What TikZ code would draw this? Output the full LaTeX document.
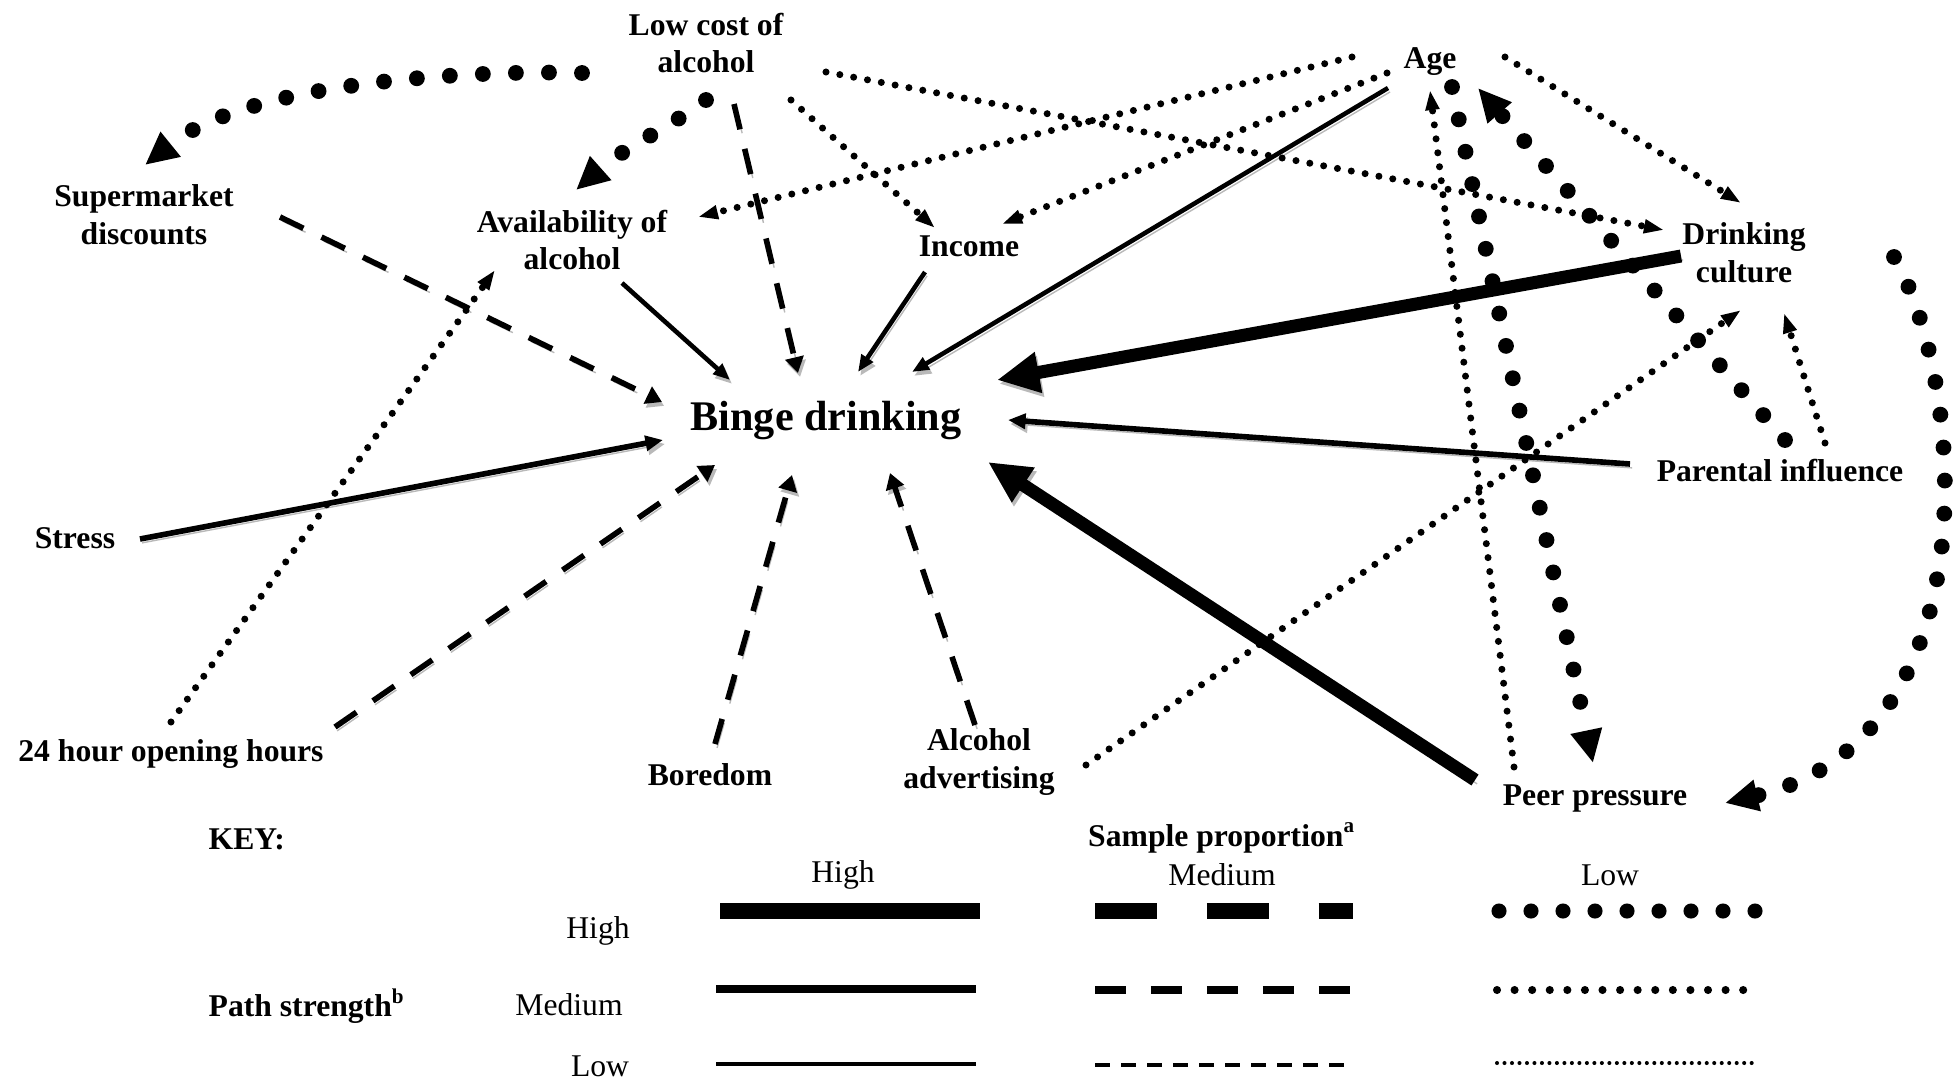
\documentclass[tikz,border=0pt]{standalone}
\usepackage{fontspec}
\setmainfont{Liberation Serif}
\usepackage{tikz}
\usetikzlibrary{arrows.meta,calc}

\begin{document}
\begin{tikzpicture}[x=0.01cm,y=-0.01cm,
  factor/.style={font=\fontsize{9}{10.7}\selectfont\bfseries,align=center,inner sep=0pt},
  keytext/.style={font=\fontsize{9}{10.7}\selectfont,inner sep=0pt},
  shade/.style={preaction={draw=gray!55,#1,transform canvas={shift={(0.6pt,-1.1pt)}}}},
  shade/.default={},
  thickline/.style={shade,line width=3.7pt,-{Triangle[length=12pt,width=11pt]}},
  midline/.style={shade,line width=1.6pt,-{Triangle[length=5pt,width=4.2pt]}},
  thinline/.style={shade,line width=1.3pt,-{Triangle[length=4.8pt,width=3.8pt]}},
  dashline/.style={shade={dash pattern=on 7.4pt off 5.7pt},line width=1.6pt,dash pattern=on 7.4pt off 5.7pt,-{Triangle[length=4.5pt,width=5.2pt]}},
  smalldots/.style={line width=2pt,line cap=round,dash pattern=on 0pt off 4pt,-{Triangle[length=5.7pt,width=3.7pt]}},
  bigdots/.style={line width=4.5pt,line cap=round,dash pattern=on 0pt off 9.4pt,-{Triangle[length=9.4pt,width=8.5pt]}}]
\useasboundingbox (0,0) rectangle (1960,1081);
% factors
\node[factor] (lowcost) at (706,43) {Low cost of\\alcohol};
\node[factor] (age) at (1430,62) {Age};
\node[factor] (supermkt) at (144,215) {Supermarket\\discounts};
\node[factor] (avail) at (572,240) {Availability of\\alcohol};
\node[factor] (income) at (969,246) {Income};
\node[factor] (culture) at (1744,253) {Drinking\\culture};
\node[factor,font=\fontsize{12}{14}\selectfont\bfseries] (binge) at (826,421) {Binge drinking};
\node[factor] (stress) at (75,538) {Stress};
\node[factor] (parent) at (1780,471) {Parental influence};
\node[factor] (open24) at (171,754) {24 hour opening hours};
\node[factor] (boredom) at (710,775) {Boredom};
\node[factor] (advert) at (979,762) {Alcohol\\advertising};
\node[factor] (peer) at (1595,798) {Peer pressure};
% paths into binge drinking
\draw[dashline] ($(supermkt)+(136,2)$) -- ($(binge)+(-164,-19)$);
\draw[dashline] ($(lowcost)+(28,61)$) -- ($(binge)+(-28,-48)$);
\draw[thinline] ($(avail)+(50,43)$) -- ($(binge)+(-96,-41)$);
\draw[thinline] ($(income)+(-44,26)$) -- ($(binge)+(32,-49)$);
\draw[thinline] ($(age)+(-42,26)$) -- ($(binge)+(86,-49)$);
\draw[thickline] ($(culture)+(-63,3)$) -- ($(binge)+(171,-41)$);
\draw[midline] ($(parent)+(-150,-7)$) -- ($(binge)+(182,-1)$);
\draw[thickline] ($(peer)+(-120,-18)$) -- ($(binge)+(162,41)$);
\draw[midline] ($(stress)+(65,1)$) -- ($(binge)+(-163,19)$);
\draw[dashline] ($(open24)+(164,-27)$) -- ($(binge)+(-111,44)$);
\draw[dashline] ($(boredom)+(5,-31)$) -- ($(binge)+(-34,54)$);
\draw[dashline] ($(advert)+(-4,-37)$) -- ($(binge)+(64,52)$);
% links between factors
\draw[smalldots] ($(lowcost)+(85,57)$) -- ($(income)+(-34,-18)$);
\draw[smalldots] ($(lowcost)+(120,29)$) -- ($(culture)+(-80,-23)$);
\draw[smalldots] ($(age)+(-78,-5)$) -- ($(avail)+(126,-23)$);
\draw[smalldots] ($(age)+(-43,11)$) -- ($(income)+(33,-22)$);
\draw[smalldots] ($(age)+(75,-5)$) -- ($(culture)+(-3,-50)$);
\draw[smalldots] ($(peer)+(-81,-31)$) -- ($(age)+(0,28)$);
\draw[smalldots] ($(advert)+(107,3)$) -- ($(culture)+(-3,57)$);
\draw[smalldots] ($(parent)+(45,-28)$) -- ($(culture)+(40,60)$);
\draw[smalldots] ($(open24)+(0,-32)$) -- ($(avail)+(-77,30)$);
\draw[bigdots] ($(lowcost)+(-124,30)$) .. controls +(-102,-3) and +(105,-85) .. ($(supermkt)+(1,-50)$);
\draw[bigdots] ($(lowcost)+(0,57)$) .. controls +(-25,20) and +(45,-40) .. ($(avail)+(4,-50)$);
\draw[bigdots] ($(age)+(22,25)$) -- ($(peer)+(-2,-35)$);
\draw[bigdots] ($(parent)+(5,-31)$) -- ($(age)+(48,26)$);
\draw[bigdots] ($(culture)+(150,4)$) .. controls +(71,123) and +(270,-63) .. ($(peer)+(130,5)$);
% key
\node[factor,anchor=west] (keyhead) at (208,839) {KEY:};
\node[factor] (sample) at (1222,838) {Sample proportion\textsuperscript{a}};
\node[keytext] (colhigh) at (843,875) {High};
\node[keytext] (colmed) at (1222,875) {Medium};
\node[keytext] (collow) at (1610,875) {Low};
\node[factor,anchor=west] (pathstr) at (208,1006) {Path strength\textsuperscript{b}};
\node[keytext] (rowhigh) at (598,931) {High};
\node[keytext] (rowmed) at (569,1005) {Medium};
\node[keytext] (rowlow) at (600,1066) {Low};
\draw[line width=4.55pt] (720,911) -- (980,911);
\draw[line width=4.3pt,dash pattern=on 17.6pt off 14.2pt] (1095,911) -- (1353,911);
\draw[line width=4.3pt,line cap=round,dash pattern=on 0pt off 9.1pt] (1499,911) -- (1757,911);
\draw[line width=2.3pt] (716,989) -- (976,989);
\draw[line width=2.3pt,dash pattern=on 8.8pt off 7.1pt] (1095,990) -- (1351,990);
\draw[line width=2.3pt,line cap=round,dash pattern=on 0pt off 5pt] (1497,990) -- (1744,990);
\draw[line width=1.15pt] (716,1064) -- (976,1064);
\draw[line width=1.15pt,dash pattern=on 4.3pt off 3.1pt] (1095,1065) -- (1354,1065);
\draw[line width=1.15pt,line cap=round,dash pattern=on 0pt off 2.13pt] (1497,1063) -- (1754,1063);
\end{tikzpicture}
\end{document}
